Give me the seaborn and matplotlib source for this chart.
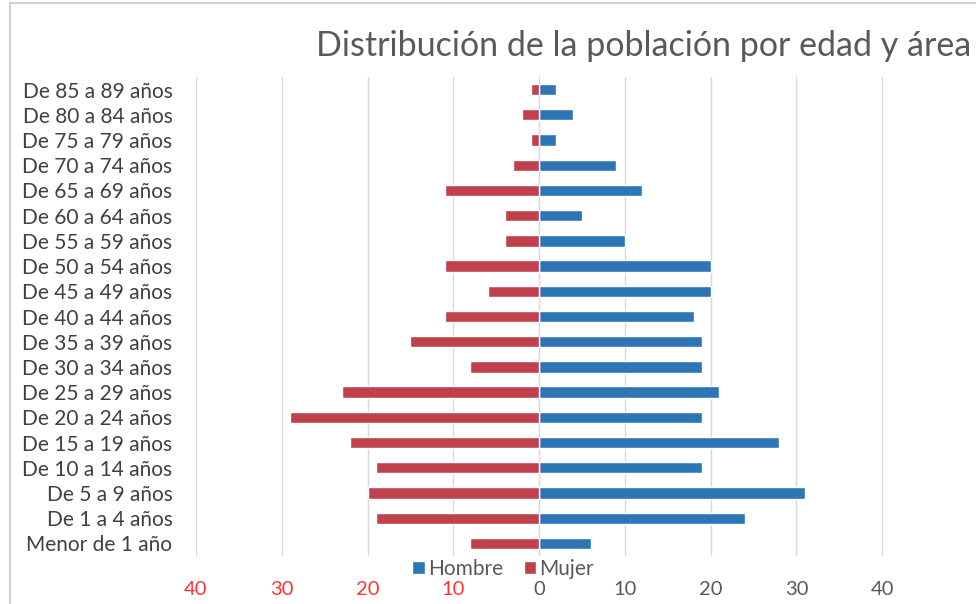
import pandas as pd
import seaborn as sns
import matplotlib.pyplot as plt
from matplotlib.lines import Line2D

# data (top row first)
edades = ["De 85 a 89 años", "De 80 a 84 años", "De 75 a 79 años", "De 70 a 74 años",
          "De 65 a 69 años", "De 60 a 64 años", "De 55 a 59 años", "De 50 a 54 años",
          "De 45 a 49 años", "De 40 a 44 años", "De 35 a 39 años", "De 30 a 34 años",
          "De 25 a 29 años", "De 20 a 24 años", "De 15 a 19 años", "De 10 a 14 años",
          "De 5 a 9 años", "De 1 a 4 años", "Menor de 1 año"]
hombre = [2, 4, 2, 9, 12, 5, 10, 20, 20, 18, 19, 19, 21, 19, 28, 19, 31, 24, 6]
mujer = [1, 2, 1, 3, 11, 4, 4, 11, 6, 11, 15, 8, 23, 29, 22, 19, 20, 19, 8]
ticks = [-40, -30, -20, -10, 0, 10, 20, 30, 40]
tick_labels = ["40", "30", "20", "10", "0", "10", "20", "30", "40"]

# long format, women drawn to the left
df = pd.concat([
    pd.DataFrame({"edad": edades, "valor": hombre, "sexo": "Hombre"}),
    pd.DataFrame({"edad": edades, "valor": [-v for v in mujer], "sexo": "Mujer"}),
])

sns.set_theme(style="white")
plt.rcParams["font.family"] = ["Lato", "DejaVu Sans"]

fig = plt.figure(figsize=(9.76, 6.04), dpi=100)
ax = fig.add_axes([196 / 976, 1 - 556 / 604, (968 - 196) / 976, (556 - 77) / 604])

sns.barplot(data=df, y="edad", x="valor", hue="sexo", order=edades,
            hue_order=["Hombre", "Mujer"], dodge=False, width=0.45,
            palette={"Hombre": "#2E75B6", "Mujer": "#C0414B"},
            orient="h", ax=ax, saturation=1)

ax.set_xlim(-40, 50)
ax.set_xticks(ticks)
ax.set_xticklabels(tick_labels, fontsize=14.5)
for lbl, t in zip(ax.get_xticklabels(), ticks):
    lbl.set_color("#FF3333" if t < 0 else "#595959")
ax.tick_params(axis="x", pad=18, length=0)
ax.tick_params(axis="y", length=0, labelsize=15, labelcolor="#404040", pad=17)
ax.set_xlabel("")
ax.set_ylabel("")
ax.grid(axis="x", color="#D9D9D9", linewidth=1)
ax.set_axisbelow(True)
for s in ax.spines.values():
    s.set_visible(False)

leg = ax.legend(loc="center", bbox_to_anchor=(503 / 976, 1 - 569 / 604),
                bbox_transform=fig.transFigure, ncol=2, frameon=False,
                fontsize=15, handlelength=0.6, handleheight=0.6,
                handletextpad=0.15, columnspacing=1.0, borderpad=0)
for t in leg.get_texts():
    t.set_color("#595959")

fig.text(316 / 976, 1 - 46 / 604, "Distribución de la población por edad y área",
         fontsize=24.5, color="#595959", ha="left", va="center")

# chart frame like the source
fig.add_artist(Line2D([10 / 976, 1], [1 - 3 / 604, 1 - 3 / 604], color="#D0D0D0", lw=1.5,
                      transform=fig.transFigure))
fig.add_artist(Line2D([10 / 976, 10 / 976], [0, 1 - 3 / 604], color="#D0D0D0", lw=1.5,
                      transform=fig.transFigure))

plt.savefig("out.png", dpi=100)
